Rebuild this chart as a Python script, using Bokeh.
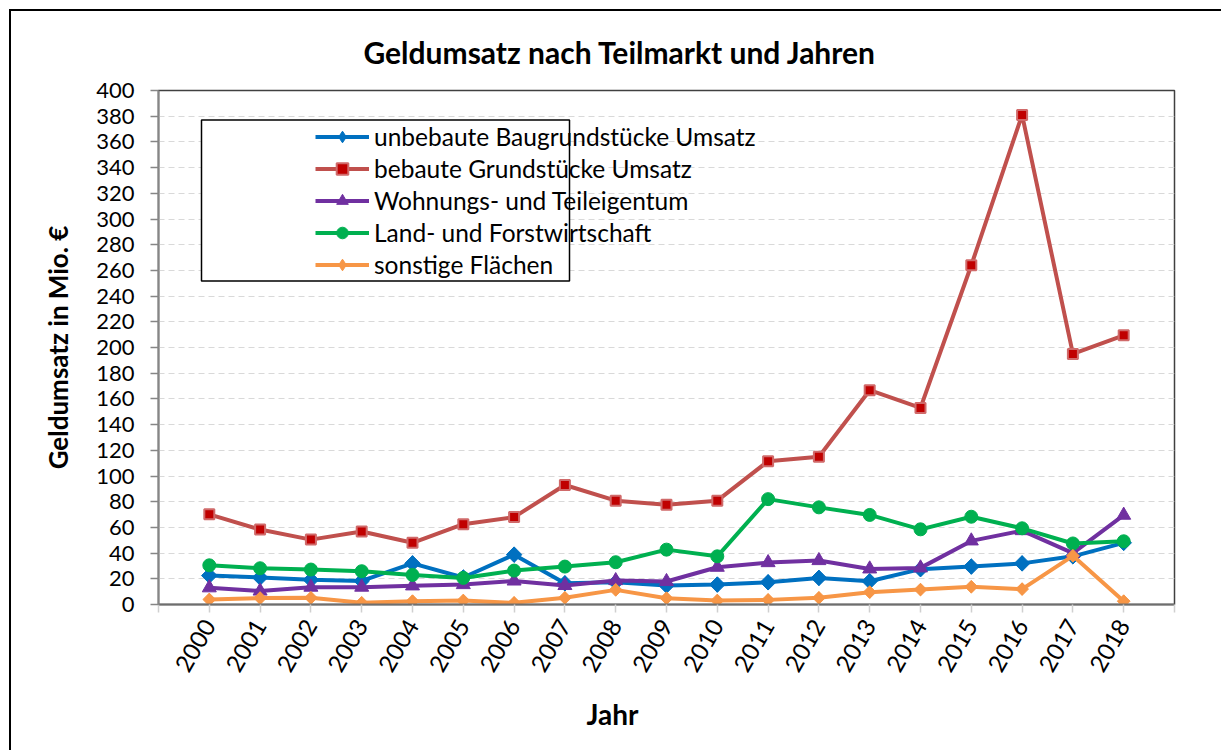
from bokeh.plotting import figure
from bokeh.models import (Range1d, FixedTicker, Legend, LegendItem, BoxAnnotation, Title)
from bokeh.embed import file_html
from bokeh.resources import INLINE

years = [2000, 2001, 2002, 2003, 2004, 2005, 2006, 2007, 2008, 2009,
         2010, 2011, 2012, 2013, 2014, 2015, 2016, 2017, 2018]
unbebaute = [22.5, 21, 19.2, 18.3, 32, 21, 38.8, 16.5, 17.3, 14.8,
             15.5, 17.3, 20.7, 18.1, 27.5, 29.5, 32, 37.5, 48]
bebaute = [70.2, 58.3, 50.5, 56.8, 48, 62.5, 68, 93, 80.8, 77.7,
           80.8, 111.5, 115, 166.8, 153, 264, 381, 195, 209.5]
wohnung = [13, 10.5, 13.5, 13.5, 14.5, 15.5, 18.3, 14.8, 18.6, 17.9,
           29, 32.6, 34.2, 27.7, 28.5, 49.5, 57.5, 40, 69.5]
land = [30.5, 28.2, 27.2, 25.9, 23, 20.7, 26.4, 29.5, 32.9, 42.7,
        37.5, 82, 75.6, 69.7, 58.5, 68.3, 59.3, 47.5, 49.2]
sonstige = [3.9, 5, 5.2, 1.3, 2.6, 3.1, 1.3, 5.2, 11.4, 4.9,
            3.1, 3.6, 5.2, 9.6, 11.6, 13.8, 12, 37.9, 2.6]

series_names = ["unbebaute Baugrundstücke Umsatz", "bebaute Grundstücke Umsatz",
                "Wohnungs- und Teileigentum", "Land- und Forstwirtschaft",
                "sonstige Flächen"]
title_text = "Geldumsatz nach Teilmarkt und Jahren"
y_title = "Geldumsatz in Mio. €"
x_title = "Jahr"
y_ticks = list(range(0, 401, 20))

FONT = "Lato"
OFF = 11  # canvas origin on the page (after CSS margin + border)

W = 1223 - OFF
H = 752 - OFF
p = figure(width=W, height=H, output_backend="svg", toolbar_location=None,
           x_range=Range1d(1999, 2019), y_range=Range1d(0, 400),
           min_border_left=158 - OFF, min_border_right=W - (1174 - OFF),
           min_border_top=89 - OFF, min_border_bottom=H - (604 - OFF))
p.styles = {"margin-left": "9px", "margin-top": "9px",
            "border-left": "2px solid black", "border-top": "2px solid black"}

p.outline_line_color = "#404040"
p.outline_line_width = 1.5

# grid
p.xgrid.visible = False
p.ygrid.grid_line_color = "#D9D9D9"
p.ygrid.grid_line_dash = "6 4"
p.ygrid.grid_line_width = 1.2
p.ygrid.ticker = FixedTicker(ticks=y_ticks)

# y axis
ya = p.yaxis[0]
ya.ticker = FixedTicker(ticks=y_ticks)
ya.axis_line_color = "#868686"
ya.axis_line_width = 2
ya.major_tick_line_color = "#868686"
ya.major_tick_line_width = 1.5
ya.major_tick_out = 8
ya.major_tick_in = 0
ya.minor_tick_line_color = None
ya.major_label_text_font = FONT
ya.major_label_text_font_size = "22px"
ya.major_label_text_color = "black"
ya.major_label_standoff = 16
ya.axis_label = y_title
ya.axis_label_text_font = FONT
ya.axis_label_text_font_size = "26px"
ya.axis_label_text_font_style = "bold"
ya.axis_label_text_color = "black"
ya.axis_label_standoff = 19

# x axis
xa = p.xaxis[0]
xa.ticker = FixedTicker(ticks=list(range(1999, 2020)))
xa.major_label_overrides = {1999: "", 2019: ""}
xa.axis_line_color = "#6E6E6E"
xa.axis_line_width = 2
xa.major_tick_line_color = "#D0D0D0"
xa.major_tick_line_width = 1.5
xa.major_tick_out = 8
xa.major_tick_in = 0
xa.minor_tick_line_color = None
xa.major_label_orientation = 1.0472
xa.major_label_text_font = FONT
xa.major_label_text_font_size = "24px"
xa.major_label_text_color = "black"
xa.major_label_standoff = 9

# legend box
box = BoxAnnotation(left=43, right=411, top=484.5, bottom=323.5,
                    left_units="screen", right_units="screen",
                    top_units="screen", bottom_units="screen",
                    fill_color="white", fill_alpha=1.0,
                    line_color="black", line_alpha=1.0, line_width=1.5, level="underlay")
p.add_layout(box)

LW = 4
items = []
r1 = p.line(years, unbebaute, line_color="#0070C0", line_width=LW)
k1 = p.scatter(years, unbebaute, marker="diamond", size=15, fill_color="#0070C0", line_color="#0070C0")
s1 = p.scatter(years, unbebaute, marker="square", angle=0.7854, size=11,
               fill_color="#0070C0", line_color="#0070C0")
items.append(LegendItem(label=series_names[0], renderers=[r1, k1]))

r2 = p.line(years, bebaute, line_color="#C0504D", line_width=LW)
s2 = p.scatter(years, bebaute, marker="square", size=10, fill_color="#C00000",
               line_color="#D06A6A", line_width=2)
items.append(LegendItem(label=series_names[1], renderers=[r2, s2]))

r3 = p.line(years, wohnung, line_color="#7030A0", line_width=LW)
s3 = p.scatter(years, wohnung, marker="triangle", size=14, fill_color="#7030A0",
               line_color="#7030A0")
items.append(LegendItem(label=series_names[2], renderers=[r3, s3]))

r4 = p.line(years, land, line_color="#00B050", line_width=LW)
s4 = p.scatter(years, land, marker="circle", size=13, fill_color="#00B050",
               line_color="#00B050")
items.append(LegendItem(label=series_names[3], renderers=[r4, s4]))

r5 = p.line(years, sonstige, line_color="#F79646", line_width=LW)
k5 = p.scatter(years, sonstige, marker="diamond", size=12, fill_color="#F79646", line_color="#F79646")
s5 = p.scatter(years, sonstige, marker="square", angle=0.7854, size=9,
               fill_color="#F79646", line_color="#F79646")
items.append(LegendItem(label=series_names[4], renderers=[r5, k5]))

legend = Legend(items=items, location=(157, 325.5), padding=0, margin=0, spacing=3,
                glyph_width=54, glyph_height=29, label_height=29, label_standoff=5,
                border_line_alpha=0, background_fill_alpha=0,
                label_text_font=FONT, label_text_font_size="24.5px", label_text_color="black")
p.add_layout(legend)

# titles
t = Title(text=title_text, align="left", offset=205, standoff=41,
          text_font=FONT, text_font_size="30px", text_font_style="bold", text_color="black")
p.add_layout(t, "above")

tx = Title(text=x_title, align="left", offset=428, standoff=27,
           text_font=FONT, text_font_size="28px", text_font_style="bold", text_color="black")
p.add_layout(tx, "below")

open("out.html", "w").write(file_html(p, INLINE))
